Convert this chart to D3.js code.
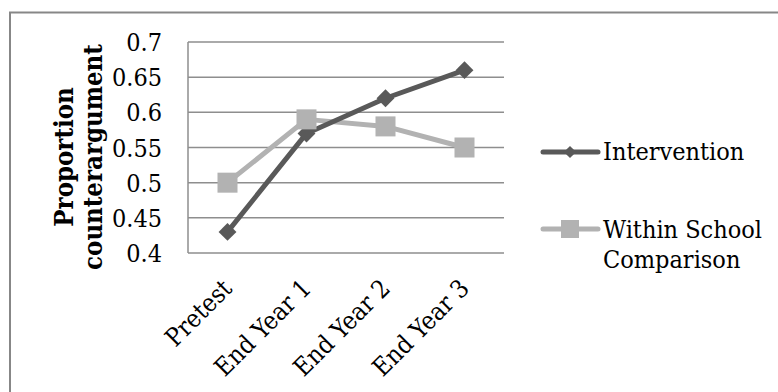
<!DOCTYPE html>
<html><head><meta charset="utf-8">
<script src="https://cdn.jsdelivr.net/npm/d3@7"></script>
<style>
html,body{margin:0;padding:0;background:#fff;}
svg text{font-family:"DejaVu Serif Condensed","DejaVu Serif",serif;font-stretch:condensed;fill:#000;}
</style></head>
<body><svg id="c" width="778" height="392"></svg>
<script>
const categories = ["Pretest","End Year 1","End Year 2","End Year 3"];
const intervention = [0.43,0.57,0.62,0.66];
const comparison = [0.50,0.59,0.58,0.55];
const yTicks = [0.4,0.45,0.5,0.55,0.6,0.65,0.7];
const seriesNames = ["Intervention","Within School Comparison"];

const svg = d3.select("#c");
const W=778,H=392;
svg.append("rect").attr("x",0).attr("y",0).attr("width",W).attr("height",H).attr("fill","#fff");
// outer border
svg.append("rect").attr("x",10).attr("y",12.5).attr("width",800).attr("height",420)
  .attr("fill","none").attr("stroke","#878787").attr("stroke-width",2);

const L=188,R=504,T=42,B=253;
const x = d3.scaleBand().domain(categories).range([L,R]);
const y = d3.scaleLinear().domain([0.4,0.7]).range([B,T]);
const cx = d=>x(d)+x.bandwidth()/2;

// gridlines
svg.append("g").selectAll("line").data(yTicks).join("line")
  .attr("x1",L).attr("x2",R).attr("y1",d=>y(d)).attr("y2",d=>y(d))
  .attr("stroke","#8e8e8e").attr("stroke-width",1.5);
svg.append("line").attr("x1",L).attr("x2",L).attr("y1",T).attr("y2",B)
  .attr("stroke","#8e8e8e").attr("stroke-width",1.5);

// y tick labels
svg.append("g").selectAll("text").data(yTicks).join("text")
  .attr("x",162).attr("y",d=>y(d)).attr("dy","0.36em").attr("text-anchor","end")
  .style("font-size","25px").text(d=>String(d));

// x labels
svg.append("g").selectAll("text").data(categories).join("text")
  .attr("transform",d=>`translate(${cx(d)+6},${290}) rotate(-45)`)
  .attr("text-anchor","end").style("font-size","25px").text(d=>d);

// axis title
const at = svg.append("text").attr("transform","translate(73,157) rotate(-90)")
  .attr("text-anchor","middle").style("font-size","25.5px").style("font-weight","bold");
at.append("tspan").attr("x",0).attr("y",0).text("Proportion");
at.append("tspan").attr("x",0).attr("y",29).text("counterargument");

const cI="#595959", cC="#b2b2b2";
const line = d3.line().x((d,i)=>cx(categories[i])).y(d=>y(d));
svg.append("path").datum(comparison).attr("d",line).attr("fill","none").attr("stroke",cC).attr("stroke-width",5).attr("stroke-linejoin","round");
svg.append("path").datum(intervention).attr("d",line).attr("fill","none").attr("stroke",cI).attr("stroke-width",5).attr("stroke-linejoin","round");
svg.append("g").selectAll("path").data(intervention).join("path")
  .attr("d",d3.symbol().type(d3.symbolSquare).size(160)()).attr("fill",cI)
  .attr("transform",(d,i)=>`translate(${cx(categories[i])},${y(d)}) rotate(45)`);
svg.append("g").selectAll("rect").data(comparison).join("rect")
  .attr("x",(d,i)=>cx(categories[i])-10).attr("y",d=>y(d)-10).attr("width",20).attr("height",20)
  .attr("fill",cC);

// legend
const lg = svg.append("g");
lg.append("line").attr("x1",543).attr("x2",598).attr("y1",152).attr("y2",152).attr("stroke",cI).attr("stroke-width",5).attr("stroke-linecap","round");
lg.append("path").attr("d",d3.symbol().type(d3.symbolSquare).size(75)()).attr("fill",cI).attr("transform","translate(570,152) rotate(45)");
lg.append("text").attr("x",603).attr("y",160).style("font-size","25px").text(seriesNames[0]);
lg.append("line").attr("x1",543).attr("x2",598).attr("y1",229).attr("y2",229).attr("stroke",cC).attr("stroke-width",5).attr("stroke-linecap","round");
lg.append("rect").attr("x",561).attr("y",220).attr("width",18).attr("height",18).attr("fill",cC);
const lt = lg.append("text").attr("x",603).attr("y",238).style("font-size","25px");
lt.append("tspan").attr("x",603).attr("y",238).text("Within School");
lt.append("tspan").attr("x",603).attr("y",268).text("Comparison");
</script></body></html>
